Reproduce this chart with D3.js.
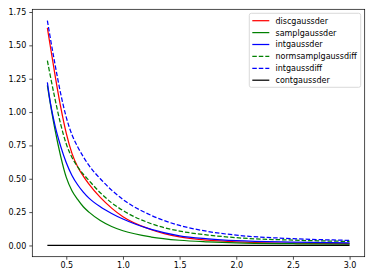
<!DOCTYPE html>
<html>
  <head>
    <meta charset="utf-8">
    <title>Gaussian derivative approximations</title>
    <script src="https://d3js.org/d3.v7.min.js"></script>
    <style>
      body { margin: 0; background: #fff; }
      text { font-family: "DejaVu Sans", sans-serif; font-size: 8px; fill: #000; }
    </style>
  </head>
  <body>
    <script>
        // values
        var sigma = [0.333, 0.35, 0.4, 0.45, 0.5, 0.55, 0.6, 0.65, 0.7, 0.8, 0.9, 1.0, 1.25, 1.5, 1.75, 2.0, 2.5, 3.0];
        var discgaussder       = [1.631, 1.54, 1.28, 1.04, 0.84, 0.69, 0.59, 0.52, 0.46, 0.36, 0.28, 0.215, 0.118, 0.064, 0.040, 0.027, 0.017, 0.013];
        var samplgaussder      = [1.200, 1.11, 0.87, 0.67, 0.51, 0.41, 0.345, 0.29, 0.25, 0.187, 0.142, 0.110, 0.063, 0.039, 0.027, 0.019, 0.013, 0.010];
        var intgaussder        = [1.223, 1.12, 0.90, 0.745, 0.62, 0.525, 0.455, 0.40, 0.355, 0.29, 0.24, 0.198, 0.120, 0.072, 0.050, 0.036, 0.025, 0.020];
        var normsamplgaussdiff = [1.386, 1.31, 1.10, 0.91, 0.76, 0.66, 0.59, 0.535, 0.487, 0.395, 0.32, 0.262, 0.163, 0.108, 0.078, 0.058, 0.040, 0.030];
        var intgaussdiff       = [1.686, 1.60, 1.36, 1.14, 0.96, 0.83, 0.74, 0.665, 0.60, 0.50, 0.415, 0.345, 0.225, 0.150, 0.105, 0.077, 0.051, 0.038];
        var contgaussder       = [0, 0, 0, 0, 0, 0, 0, 0, 0, 0, 0, 0, 0, 0, 0, 0, 0, 0];

        var xTicks = [0.5, 1.0, 1.5, 2.0, 2.5, 3.0];
        var yTicks = [0, 0.25, 0.5, 0.75, 1.0, 1.25, 1.5, 1.75];

        var series = [
          {name: "discgaussder", values: discgaussder, color: "#ff0000", dash: null},
          {name: "samplgaussder", values: samplgaussder, color: "#008000", dash: null},
          {name: "intgaussder", values: intgaussder, color: "#0000ff", dash: null},
          {name: "normsamplgaussdiff", values: normsamplgaussdiff, color: "#008000", dash: "4.5,2"},
          {name: "intgaussdiff", values: intgaussdiff, color: "#0000ff", dash: "4.5,2"},
          {name: "contgaussder", values: contgaussder, color: "#000000", dash: null}
        ];

        var W = 374, H = 280;
        var axLeft = 32.3, axRight = 364.7, axTop = 9.3, axBottom = 256.7;

        var svg = d3.select("body").append("svg")
            .attr("width", W)
            .attr("height", H);

        var x = d3.scaleLinear().domain([0.2, 3.1333]).range([axLeft, axRight]);
        var y = d3.scaleLinear().domain([-0.0843, 1.7703]).range([axBottom, axTop]);

        // curves
        var line = d3.line()
            .x(function(d) { return x(d[0]); })
            .y(function(d) { return y(d[1]); })
            .curve(d3.curveMonotoneX);

        var plot = svg.append("g");
        series.forEach(function(s) {
          plot.append("path")
            .datum(sigma.map(function(v, i) { return [v, s.values[i]]; }))
            .attr("d", line)
            .attr("fill", "none")
            .attr("stroke", s.color)
            .attr("stroke-width", 1.25)
            .attr("stroke-dasharray", s.dash);
        });

        // axes
        var xAxis = svg.append("g")
          .attr("transform", "translate(0," + axBottom + ")")
          .call(d3.axisBottom(x).tickValues(xTicks).tickFormat(d3.format(".1f")).tickSize(3).tickPadding(3));
        var yAxis = svg.append("g")
          .attr("transform", "translate(" + axLeft + ",0)")
          .call(d3.axisLeft(y).tickValues(yTicks).tickFormat(d3.format(".2f")).tickSize(3).tickPadding(3));
        [xAxis, yAxis].forEach(function(a) {
          a.select(".domain").remove();
          a.selectAll("text").attr("font-family", null).attr("font-size", null);
          a.selectAll("line").attr("stroke", "#000").attr("stroke-width", 0.7);
        });

        // frame
        svg.append("rect")
          .attr("x", axLeft)
          .attr("y", axTop)
          .attr("width", axRight - axLeft)
          .attr("height", axBottom - axTop)
          .attr("fill", "none")
          .attr("stroke", "#000")
          .attr("stroke-width", 0.7);

        // legend
        var legend = svg.append("g");
        legend.append("rect")
          .attr("x", 249.3)
          .attr("y", 13.3)
          .attr("width", 111.4)
          .attr("height", 74)
          .attr("rx", 2)
          .attr("fill", "#fff")
          .attr("fill-opacity", 0.8)
          .attr("stroke", "#d0d0d0")
          .attr("stroke-width", 0.8);

        var item = legend.selectAll(".item")
          .data(series)
          .enter()
          .append("g")
          .attr("transform", function(d, i) { return "translate(0," + (20.7 + i * 11.9) + ")"; });
        item.append("line")
          .attr("x1", 252.3)
          .attr("x2", 269.3)
          .attr("stroke", function(d) { return d.color; })
          .attr("stroke-width", 1.25)
          .attr("stroke-dasharray", function(d) { return d.dash; });
        item.append("text")
          .attr("x", 275.5)
          .attr("y", 2.9)
          .text(function(d) { return d.name; });
    </script>
  </body>
</html>
